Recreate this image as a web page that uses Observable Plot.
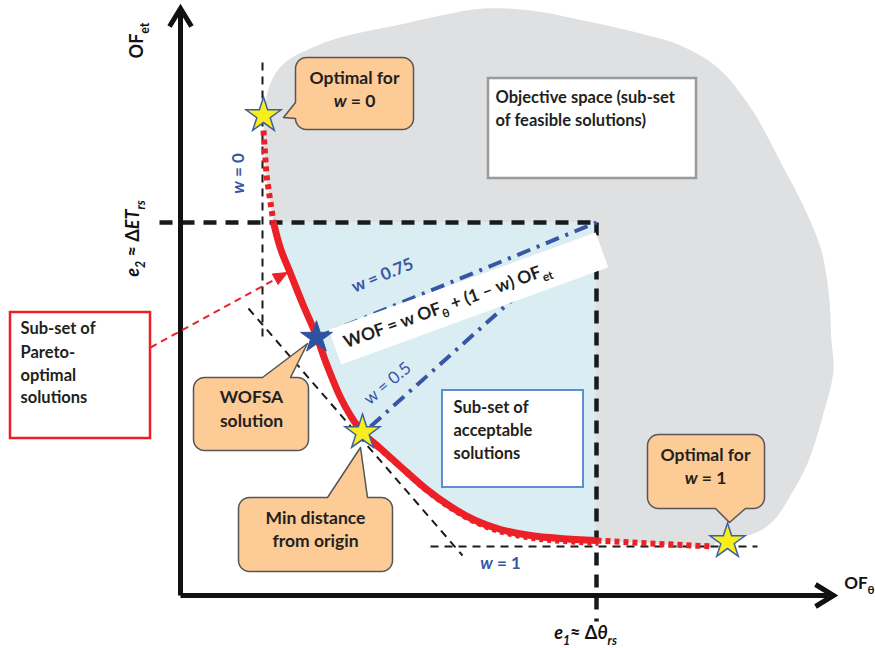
<!DOCTYPE html>
<html><head><meta charset="utf-8">
<script src="https://cdn.jsdelivr.net/npm/d3@7"></script>
<script src="https://cdn.jsdelivr.net/npm/@observablehq/plot@0.6"></script>
<style>body{margin:0;background:#fff;} #chart{width:875px;height:648px;}</style>
</head><body><div id="chart"></div>
<script>
// ---------- data (objective-space units, origin at axes intersection) ----------
const e1 = 416;   // Δθ_rs threshold on OF_θ
const e2 = 373;   // ΔET_rs threshold on OF_et
const xAxisEnd = 653, yAxisEnd = 587;

const paretoFront = [
  {x:93,y:373},{x:100,y:347},{x:110,y:322},{x:122,y:292},{x:135,y:262},{x:147,y:229},
  {x:160,y:198},{x:170,y:180},{x:182,y:163},{x:200,y:147},{x:220,y:129},{x:245,y:107},
  {x:270,y:89},{x:295,y:75},{x:320,y:66},{x:350,y:60},{x:380,y:57},{x:416,y:55}
];
const dottedTop = [{x:83,y:465},{x:86,y:420},{x:93,y:373}];
const dottedRight = [{x:416,y:55},{x:470,y:52},{x:533,y:49}];
const feasibleOuter = [
  {x:87,y:503},{x:95,y:522},{x:107,y:535},{x:130,y:547},{x:153,y:556},{x:185,y:564},
  {x:220,y:571},{x:260,y:580},{x:303,y:587},{x:350,y:585},{x:403,y:575},{x:460,y:562},
  {x:500,y:550},{x:537,y:528},{x:570,y:488},{x:603,y:428},{x:625,y:385},{x:640,y:348},
  {x:648,y:305},{x:651,y:255},{x:653,y:225},{x:643,y:182},{x:627,y:132},{x:610,y:100},
  {x:595,y:77},{x:580,y:65},{x:558,y:57},{x:533,y:51}
];
const tangentLines = [
  {x1:82,y1:533,x2:82,y2:253},   // w = 0
  {x1:250,y1:49,x2:577,y2:49},   // w = 1
  {x1:68,y1:287,x2:282,y2:40}    // min distance
];
const weightLines = [
  {x1:136,y1:258,x2:416,y2:373}, // w = 0.75
  {x1:190,y1:169,x2:340,y2:303}  // w = 0.5
];
const yellowStars = [{x:83,y:480},{x:182,y:163},{x:547,y:54}];
const blueStars = [{x:136,y:258}];
const callouts = [
  {x1:115,x2:233,y1:466,y2:538,side:"left",base:[477,493],tip:[103,478]},
  {x1:13,x2:128,y1:145,y2:218,side:"top",base:[82,110],tip:[127,252]},
  {x1:58,x2:212,y1:24,y2:98,side:"top",base:[147,187],tip:[180,148]},
  {x1:467,x2:584,y1:87,y2:161,side:"bottom",base:[535,565],tip:[549,73]}
];
const calloutLabels = [
  {text:"Optimal for",x:174,y:517},{text:"*w* = 0",x:174,y:494},
  {text:"WOFSA",x:71,y:198},{text:"solution",x:71,y:174},
  {text:"Min distance",x:135,y:77},{text:"from origin",x:135,y:54},
  {text:"Optimal for",x:525,y:140},{text:"*w* = 1",x:525,y:117}
];
const objectiveBox = {x1:308,x2:516,y1:417,y2:517};
const acceptableBox = {x1:262,x2:403,y1:108,y2:205};
const paretoBox = {x1:-170,x2:-30,y1:157,y2:283};
const boxLabels = [
  {text:"Objective space (sub-set",x:315,y:498},{text:"of feasible solutions)",x:315,y:475},
  {text:"Sub-set of",x:273,y:188},{text:"acceptable",x:273,y:165},{text:"solutions",x:273,y:142},
  {text:"Sub-set of",x:-160,y:267},{text:"Pareto-",x:-160,y:243},{text:"optimal",x:-160,y:220},{text:"solutions",x:-160,y:198}
];
const paretoPointer = {x1:-30,y1:248,x2:107,y2:323};
const wofBand = {x:288,y:297,angle:20,length:284,thickness:37};
const wofLabel = [{text:"WOF = w OF_{θ} + (1 – w) OF_{et}",x:267,y:290,rotate:-20}];
const weightLabels = [
  {text:"*w* = 0",x:58,y:422,rotate:-90},
  {text:"w = 0.75",x:202,y:320,rotate:-22},
  {text:"*w* = 1",x:320,y:32,rotate:0}
];
const weightLabelsThin = [{text:"w = 0.5",x:207,y:212,rotate:-40}];
const axisLabels = [
  {text:"OF_{et}",x:-43,y:555,rotate:-90},
  {text:"*e_{2}* ≈ Δ*ET_{rs}*",x:-47,y:357,rotate:-90},
  {text:"*e_{1}*≈ Δ*θ_{rs}*",x:405,y:-38,rotate:0}
];
const xAxisTitle = [{text:"OF_{θ}",x:694,y:12}];

// ---------- derived geometry helpers ----------
const axes = [{x1:0,y1:0,x2:xAxisEnd,y2:0},{x1:0,y1:0,x2:0,y2:yAxisEnd}];
const chevron = (tipX, tipY, dx, dy) => [
  {x:tipX - dx*18 - dy*11, y:tipY - dy*18 - dx*11},
  {x:tipX, y:tipY},
  {x:tipX - dx*18 + dy*11, y:tipY - dy*18 + dx*11}
];
const xHead = chevron(xAxisEnd, 0, 1, 0);
const yHead = chevron(0, yAxisEnd, 0, 1);
const constraintLines = [{x1:-21,y1:e2,x2:e1,y2:e2},{x1:e1,y1:e2,x2:e1,y2:-26}];
const feasibleBlob = [...feasibleOuter, ...dottedRight.slice().reverse(), ...paretoFront.slice().reverse(), ...dottedTop.slice().reverse()];
const paretoUnder = paretoFront.slice(8).map(d => ({x:d.x+2, y:d.y-3}));

function calloutOutline(c, id, r = 11) {
  const p = [];
  const arc = (cx, cy, a0, a1) => { for (let k = 0; k <= 8; k++) { const a = a0 + (a1 - a0) * k / 8; p.push({x: cx + r*Math.cos(a), y: cy + r*Math.sin(a), id}); } };
  const tip = {x:c.tip[0], y:c.tip[1], id};
  p.push({x:c.x1 + r, y:c.y2, id});
  if (c.side === "top") p.push({x:c.base[0], y:c.y2, id}, tip, {x:c.base[1], y:c.y2, id});
  arc(c.x2 - r, c.y2 - r, Math.PI/2, 0);
  arc(c.x2 - r, c.y1 + r, 0, -Math.PI/2);
  if (c.side === "bottom") p.push({x:c.base[1], y:c.y1, id}, tip, {x:c.base[0], y:c.y1, id});
  arc(c.x1 + r, c.y1 + r, -Math.PI/2, -Math.PI);
  if (c.side === "left") p.push({x:c.x1, y:c.base[0], id}, tip, {x:c.x1, y:c.base[1], id});
  arc(c.x1 + r, c.y2 - r, Math.PI, Math.PI/2);
  return p;
}
const calloutShapes = callouts.flatMap((c, i) => calloutOutline(c, i));

function bandOutline(b) {
  const a = b.angle*Math.PI/180, ux = Math.cos(a), uy = Math.sin(a), nx = -uy, ny = ux;
  const hl = b.length/2, ht = b.thickness/2;
  return [[-1,-1],[1,-1],[1,1],[-1,1],[-1,-1]].map(([s,t]) => ({x:b.x + s*hl*ux + t*ht*nx, y:b.y + s*hl*uy + t*ht*ny}));
}
function arrowParts(a, len = 14, half = 6) {
  const dx = a.x2 - a.x1, dy = a.y2 - a.y1, L = Math.hypot(dx, dy), ux = dx/L, uy = dy/L;
  const bx = a.x2 - ux*len, by = a.y2 - uy*len;
  return {
    shaft: [{x1:a.x1, y1:a.y1, x2:bx, y2:by}],
    head: [{x:a.x2,y:a.y2},{x:bx - uy*half, y:by + ux*half},{x:bx + uy*half, y:by - ux*half},{x:a.x2,y:a.y2}]
  };
}
const pointer = arrowParts(paretoPointer);

// ---------- colours ----------
const RED = "#ec2027", BLUE = "#3856a6", INK = "#231f20";

const plot = Plot.plot({
  width: 875, height: 648, margin: 0,
  x: {domain: [-180, 695], axis: null},
  y: {domain: [-53, 595], axis: null},
  style: {background: "white", fontFamily: "Lato, 'Open Sans', sans-serif", overflow: "visible"},
  marks: [
    Plot.line(feasibleBlob, {x:"x", y:"y", curve:"catmull-rom-closed", fill:"#dfe0e2", stroke:"none"}),
    Plot.areaY(paretoFront, {x:"x", y1:"y", y2:e2, curve:"catmull-rom", fill:"#daedf3"}),
    Plot.link(tangentLines, {x1:"x1", y1:"y1", x2:"x2", y2:"y2", stroke:"#1a1a1a", strokeWidth:2, strokeDasharray:"8,6"}),
    Plot.link(constraintLines, {x1:"x1", y1:"y1", x2:"x2", y2:"y2", stroke:"#1a1a1a", strokeWidth:4.5, strokeDasharray:"13,9"}),
    Plot.link(axes, {x1:"x1", y1:"y1", x2:"x2", y2:"y2", stroke:"#111", strokeWidth:5}),
    Plot.line(xHead, {x:"x", y:"y", stroke:"#111", strokeWidth:5, strokeLinejoin:"miter", strokeMiterlimit:4, strokeLinecap:"butt"}),
    Plot.line(yHead, {x:"x", y:"y", stroke:"#111", strokeWidth:5, strokeLinejoin:"miter", strokeMiterlimit:4, strokeLinecap:"butt"}),
    Plot.rect([objectiveBox], {x1:"x1", x2:"x2", y1:"y1", y2:"y2", fill:"white", stroke:"#9a9a9a", strokeWidth:2.5}),
    Plot.rect([acceptableBox], {x1:"x1", x2:"x2", y1:"y1", y2:"y2", fill:"white", stroke:"#5b8fd0", strokeWidth:2}),
    Plot.rect([paretoBox], {x1:"x1", x2:"x2", y1:"y1", y2:"y2", fill:"white", stroke:RED, strokeWidth:2.5}),
    Plot.line(dottedTop, {x:"x", y:"y", stroke:RED, strokeWidth:6, strokeDasharray:"5,4", strokeLinecap:"butt"}),
    Plot.line(dottedRight, {x:"x", y:"y", stroke:RED, strokeWidth:6, strokeDasharray:"5,4", strokeLinecap:"butt"}),
    Plot.line(paretoUnder, {x:"x", y:"y", curve:"catmull-rom", stroke:RED, strokeWidth:5, strokeDasharray:"4,4", strokeLinecap:"butt"}),
    Plot.line(paretoFront, {x:"x", y:"y", curve:"catmull-rom", stroke:RED, strokeWidth:7, strokeLinecap:"butt"}),
    Plot.link(weightLines, {x1:"x1", y1:"y1", x2:"x2", y2:"y2", stroke:BLUE, strokeWidth:4, strokeDasharray:"14,7,3,7"}),
    Plot.line(bandOutline(wofBand), {x:"x", y:"y", fill:"white", stroke:"none"}),
    Plot.link(pointer.shaft, {x1:"x1", y1:"y1", x2:"x2", y2:"y2", stroke:RED, strokeWidth:2, strokeDasharray:"7,5"}),
    Plot.line(pointer.head, {x:"x", y:"y", fill:RED, stroke:RED, strokeWidth:1}),
    Plot.line(calloutShapes, {x:"x", y:"y", z:"id", fill:"#fccb96", stroke:"#555", strokeWidth:1.5, strokeLinejoin:"round"}),
    Plot.dot(yellowStars, {x:"x", y:"y", symbol:"star", r:11, fill:"#f7ee1c", stroke:"#3d5fa0", strokeWidth:1.5}),
    Plot.dot(blueStars, {x:"x", y:"y", symbol:"star", r:10, fill:"#2f52a0", stroke:"#2f52a0", strokeWidth:1}),
    Plot.text(calloutLabels, {x:"x", y:"y", text:"text", fontSize:17.5, fontWeight:"bold", fill:INK}),
    Plot.text(boxLabels, {x:"x", y:"y", text:"text", textAnchor:"start", fontSize:16.5, fontWeight:"bold", fill:INK}),
    Plot.text(wofLabel, {x:"x", y:"y", text:"text", rotate:"rotate", fontSize:17.5, fontWeight:"bold", fill:INK}),
    Plot.text(weightLabels, {x:"x", y:"y", text:"text", rotate:"rotate", fontSize:17, fontWeight:"bold", fill:BLUE}),
    Plot.text(weightLabelsThin, {x:"x", y:"y", text:"text", rotate:"rotate", fontSize:17, fill:BLUE}),
    Plot.text(axisLabels, {x:"x", y:"y", text:"text", rotate:"rotate", fontSize:18, fontWeight:"bold", fill:"#111"}),
    Plot.text(xAxisTitle, {x:"x", y:"y", text:"text", textAnchor:"end", fontSize:17, fontWeight:"bold", fill:"#111"})
  ]
});
document.getElementById("chart").appendChild(plot);

// rich text: *italic* and _{subscript}
function richify(svg) {
  svg.querySelectorAll("text").forEach(el => {
    const s = el.textContent;
    if (!/[*]|_\{/.test(s)) return;
    const fs = parseFloat(getComputedStyle(el).fontSize) || 16;
    const segs = [];
    let italic = false, buf = "", i = 0;
    const flush = () => { if (buf) segs.push({t:buf, italic, sub:false}); buf = ""; };
    while (i < s.length) {
      const ch = s[i];
      if (ch === "*") { flush(); italic = !italic; i++; }
      else if (ch === "_" && s[i+1] === "{") { flush(); const j = s.indexOf("}", i); segs.push({t:s.slice(i+2, j), italic, sub:true}); i = j + 1; }
      else { buf += ch; i++; }
    }
    flush();
    while (el.firstChild) el.removeChild(el.firstChild);
    let shift = 0;
    segs.forEach(g => {
      const t = document.createElementNS("http://www.w3.org/2000/svg", "tspan");
      t.textContent = g.t;
      if (g.italic) t.setAttribute("font-style", "italic");
      const target = g.sub ? fs*0.3 : 0;
      if (target !== shift) { t.setAttribute("dy", target - shift); shift = target; }
      if (g.sub) t.setAttribute("font-size", fs*0.68);
      el.appendChild(t);
    });
  });
}
richify(plot);
</script></body></html>
